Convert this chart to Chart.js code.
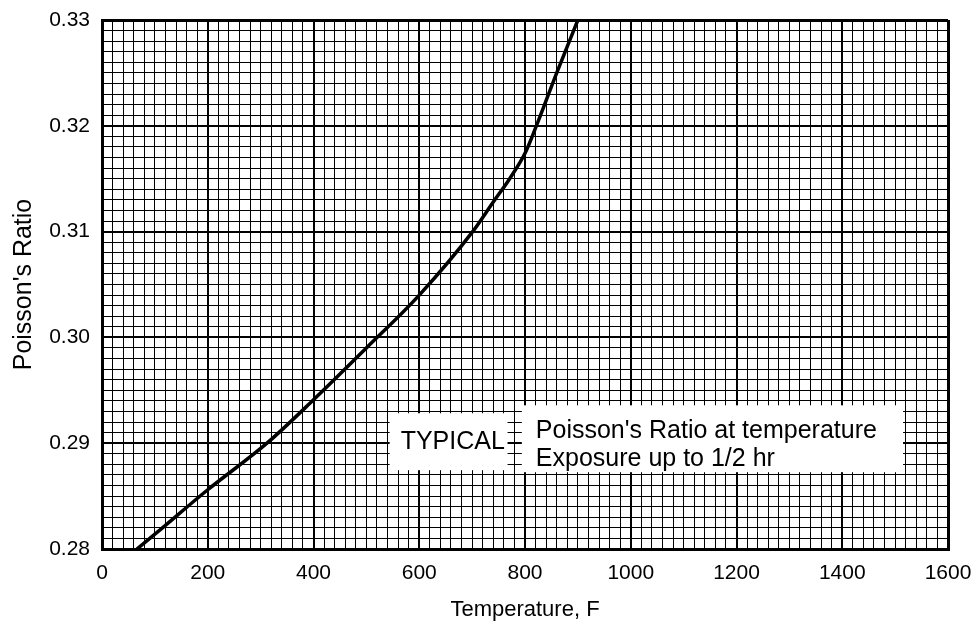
<!DOCTYPE html>
<html>
<head>
<meta charset="utf-8">
<script src="https://cdn.jsdelivr.net/npm/chart.js@4/dist/chart.umd.min.js"></script>
<style>
  body { margin: 0; background: #fff; }
</style>
</head>
<body>
<canvas id="myChart" width="977" height="627"></canvas>
<script>
'use strict';

// temperature (F) vs poisson's ratio
let temps = [66, 100, 200, 312, 400, 500, 600, 701, 740, 771, 800, 820, 860, 900];
let ratios = [0.280, 0.2814, 0.2856, 0.290, 0.2941, 0.2990, 0.3040, 0.310, 0.3128, 0.3150, 0.3174, 0.3198, 0.3250, 0.330];

let xMin = 0;
let xMax = 1600;
let yMin = 0.28;
let yMax = 0.33;

let note1 = ['TYPICAL'];
let note2 = ["Poisson's Ratio at temperature", 'Exposure up to 1/2 hr'];

const ctx = document.getElementById('myChart').getContext('2d');
const FONT = 'Liberation Sans, Arial, sans-serif';

let points = [];
for (let i = 0; i < temps.length; i++) {
  points.push({ x: temps[i], y: ratios[i] });
}

function isMajorX(v) {
  return Math.round(v) % 200 === 0;
}
function isMajorY(v) {
  return Math.round(v * 1000) % 10 === 0;
}

// white label boxes drawn on top of the grid
const notesPlugin = {
  id: 'notes',
  beforeDatasetsDraw(chart) {
    let c = chart.ctx;
    let xs = chart.scales.x;
    let ys = chart.scales.y;
    c.save();
    c.fillStyle = '#fff';

    // TYPICAL box
    let x1 = xs.getPixelForValue(544);
    let x2 = xs.getPixelForValue(767);
    let y1 = ys.getPixelForValue(0.29283);
    let y2 = ys.getPixelForValue(0.28745);
    c.fillRect(x1, y1, x2 - x1, y2 - y1);

    // description box
    let bx1 = xs.getPixelForValue(794);
    let bx2 = xs.getPixelForValue(1515);
    let by1 = ys.getPixelForValue(0.29358);
    let by2 = ys.getPixelForValue(0.28726);
    c.fillRect(bx1, by1, bx2 - bx1, by2 - by1);

    c.fillStyle = '#000';
    c.font = '25px ' + FONT;
    c.textBaseline = 'alphabetic';
    c.textAlign = 'left';
    c.fillText(note1[0], x1 + 11, ys.getPixelForValue(0.28943));
    c.fillText(note2[0], bx1 + 14, ys.getPixelForValue(0.29047));
    c.fillText(note2[1], bx1 + 14, ys.getPixelForValue(0.28786));
    c.restore();
  }
};

let chartObject = {
  type: 'line',
  data: {
    datasets: [{
      data: points,
      borderColor: '#000',
      borderWidth: 3.5,
      pointRadius: 0,
      fill: false,
      cubicInterpolationMode: 'monotone'
    }]
  },
  options: {
    responsive: false,
    animation: false,
    layout: { padding: { top: 20, right: 29, left: 0, bottom: 0 } },
    plugins: {
      legend: { display: false },
      tooltip: { enabled: false }
    },
    scales: {
      x: {
        type: 'linear',
        min: xMin,
        max: xMax,
        afterFit(scale) {
          scale.height = 78;
          scale.paddingLeft = 0;
          scale.paddingRight = 0;
        },
        ticks: {
          stepSize: 20,
          autoSkip: false,
          maxRotation: 0,
          padding: 12,
          color: '#000',
          font: { family: FONT, size: 21 },
          callback: (v) => isMajorX(v) ? String(Math.round(v)) : ''
        },
        grid: {
          drawTicks: false,
          color: '#000',
          lineWidth: (c) => {
            let v = c.tick ? c.tick.value : 0;
            if (Math.round(v) === xMin || Math.round(v) === xMax) return 3;
            return isMajorX(v) ? 2 : 1;
          }
        },
        border: { display: true, width: 3, color: '#000' },
        title: {
          display: true,
          text: 'Temperature, F',
          color: '#000',
          font: { family: FONT, size: 22 },
          padding: { top: 2, bottom: 4 }
        }
      },
      y: {
        type: 'linear',
        min: yMin,
        max: yMax,
        afterFit(scale) {
          scale.width = 102;
          scale.paddingTop = 0;
          scale.paddingBottom = 0;
        },
        ticks: {
          stepSize: 0.001,
          autoSkip: false,
          padding: 12,
          color: '#000',
          font: { family: FONT, size: 21 },
          callback: (v) => isMajorY(v) ? v.toFixed(2) : ''
        },
        grid: {
          drawTicks: false,
          color: '#000',
          lineWidth: (c) => {
            let v = c.tick ? c.tick.value : 0;
            let k = Math.round(v * 1000);
            if (k === 280 || k === 330) return 3;
            return isMajorY(v) ? 2 : 1;
          }
        },
        border: { display: true, width: 3, color: '#000' },
        title: {
          display: true,
          text: "Poisson's Ratio",
          color: '#000',
          font: { family: FONT, size: 25 },
          padding: { top: 9, bottom: 0 }
        }
      }
    }
  },
  plugins: [notesPlugin]
};

new Chart(ctx, chartObject);
</script>
</body>
</html>
